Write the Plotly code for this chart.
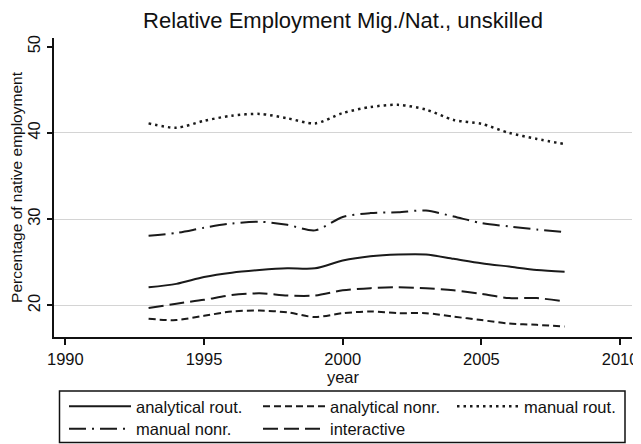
import plotly.graph_objects as go

years = list(range(1993, 2009))

analytical_rout = [22.1, 22.5, 23.3, 23.8, 24.1, 24.3, 24.3, 25.2, 25.7, 25.9, 25.9, 25.4, 24.9, 24.5, 24.1, 23.9]
analytical_nonr = [18.45, 18.3, 18.8, 19.3, 19.4, 19.2, 18.65, 19.1, 19.3, 19.1, 19.1, 18.7, 18.3, 17.9, 17.75, 17.55]
manual_rout = [41.1, 40.6, 41.4, 42.0, 42.2, 41.7, 41.1, 42.3, 43.0, 43.25, 42.7, 41.5, 41.05, 40.0, 39.3, 38.7]
manual_nonr = [28.08, 28.4, 29.0, 29.5, 29.7, 29.35, 28.7, 30.25, 30.7, 30.8, 31.0, 30.3, 29.55, 29.15, 28.8, 28.5]
interactive = [19.7, 20.2, 20.65, 21.2, 21.4, 21.15, 21.15, 21.75, 22.0, 22.1, 22.0, 21.75, 21.35, 20.85, 20.85, 20.45]

x_ticks = [1990, 1995, 2000, 2005, 2010]
y_ticks = [20, 30, 40, 50]
grid_vals = [20, 30, 40]

# name, values, dash, width, legend row
series = [
    ("analytical rout.", analytical_rout, "solid", 2, "legend"),
    ("analytical nonr.", analytical_nonr, "7px,4px", 2, "legend"),
    ("manual rout.", manual_rout, "2.5px,4px", 2.5, "legend"),
    ("manual nonr.", manual_nonr, "17px,6px,2px,6px", 2, "legend2"),
    ("interactive", interactive, "15px,6px", 2, "legend2"),
]

FONT = "Liberation Sans, Arial, sans-serif"
fig = go.Figure()
for name, vals, dash, w, leg in series:
    fig.add_trace(go.Scatter(
        x=years, y=vals, name=name, mode="lines", legend=leg,
        line=dict(color="#1a1a1a", width=w, dash=dash, shape="spline", smoothing=0.8),
    ))

# invisible trace on overlay axis carrying the gridlines at 20/30/40
fig.add_trace(go.Scatter(x=[years[0]], y=[grid_vals[0]], yaxis="y2", mode="markers",
                         marker=dict(opacity=0), showlegend=False, hoverinfo="skip"))

# page body has an 8px margin, so the figure is 8px smaller and positions shifted
OFF = 8
W, H = 641 - OFF, 444 - OFF
L, R, T, B = 54 - OFF, 9, 38 - OFF, 444 - 337
PW, PH = W - L - R, H - T - B


def px_x(p):
    return (p - OFF - L) / PW


def px_y(p):
    return (H - B - (p - OFF)) / PH


legend_common = dict(orientation="h", xanchor="left", yanchor="top",
                     borderwidth=0, bgcolor="rgba(0,0,0,0)",
                     itemwidth=62, entrywidth=117, entrywidthmode="pixels",
                     font=dict(size=16.5, color="#111"), traceorder="normal")

fig.update_layout(
    width=W, height=H,
    margin=dict(l=L, r=R, t=T, b=B, autoexpand=False),
    paper_bgcolor="white", plot_bgcolor="white",
    font=dict(family=FONT, color="#111", size=16),
    title=dict(text="Relative Employment Mig./Nat., unskilled",
               font=dict(size=22, color="#111"),
               x=0.5, xref="paper", xanchor="center",
               y=1 - (20.7 - OFF) / H, yref="container", yanchor="middle"),
    xaxis=dict(range=[1989.59, 2010.43], tickvals=x_ticks, ticks="outside", ticklen=6,
               tickwidth=1.5, tickcolor="#111", showline=True, linecolor="#111", linewidth=2,
               showgrid=False, zeroline=False, tickfont=dict(size=16.5),
               title=dict(text="year", font=dict(size=16.5), standoff=0)),
    yaxis=dict(range=[16.34, 51.0], tickvals=y_ticks, ticks="outside", ticklen=5,
               tickwidth=1.5, tickcolor="#111", showline=True, linecolor="#111", linewidth=2,
               showgrid=False, zeroline=False, tickangle=-90, tickfont=dict(size=16.5),
               title=dict(text="Percentage of native employment", font=dict(size=15.5), standoff=0)),
    yaxis2=dict(range=[16.34, 51.0], overlaying="y", tickvals=grid_vals, showticklabels=False,
                showgrid=True, gridcolor="#d4d4d4", gridwidth=1, zeroline=False, showline=False,
                ticks=""),
    legend=dict(x=px_x(64), y=px_y(389), **legend_common),
    legend2=dict(x=px_x(64), y=px_y(411.5), **legend_common),
    shapes=[dict(type="rect", xref="paper", yref="paper",
                 x0=px_x(59.5), x1=px_x(625), y0=px_y(391), y1=px_y(442.5),
                 line=dict(color="#111", width=1.5), fillcolor="rgba(0,0,0,0)", layer="above")],
    showlegend=True,
)

fig.write_html("out.html")
